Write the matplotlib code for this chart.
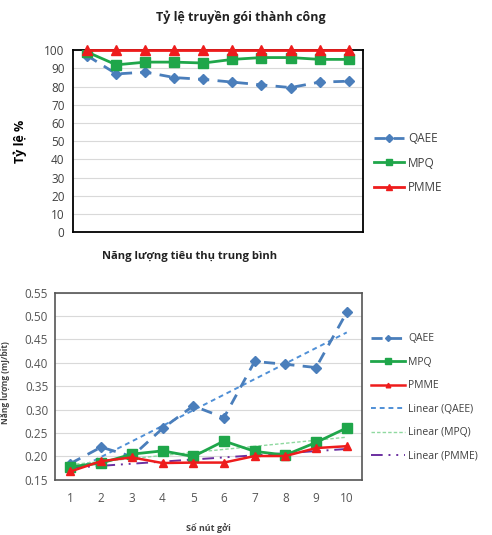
import matplotlib
matplotlib.use("Agg")
import matplotlib.pyplot as plt
import numpy as np

plt.rcParams.update({
    'font.family': ['Open Sans', 'DejaVu Sans'],
    'font.size': 8,
    'axes.linewidth': 1.0,
})

# ── Data ──────────────────────────────────────────────────────────
NODES = np.arange(1, 11)

# Success rate (%)
RATE_QAEE = [97, 87, 88, 85, 84, 82.5, 81, 79.5, 82.5, 83]
RATE_MPQ = [99, 92, 93.5, 93.5, 93, 95, 96, 96, 95, 95]
RATE_PMME = [100, 100, 100, 100, 100, 100, 100, 100, 100, 100]

# Average energy consumption
EN_QAEE = [0.185, 0.220, 0.200, 0.260, 0.308, 0.283, 0.403, 0.397, 0.390, 0.508]
EN_MPQ = [0.178, 0.186, 0.205, 0.212, 0.200, 0.233, 0.211, 0.203, 0.230, 0.261]
EN_PMME = [0.168, 0.190, 0.198, 0.186, 0.187, 0.187, 0.201, 0.201, 0.218, 0.222]

C_QAEE = "#4a7ebb"
C_MPQ = "#1fa64a"
C_PMME = "#ee1c1c"
C_TQ = "#4f8fd6"
C_TM = "#8fd9a0"
C_TP = "#6b2fa0"
TXT = "#404040"

fig = plt.figure(figsize=(4.92, 5.35), dpi=100)

# ── Top: success rate ─────────────────────────────────────────────
ax1 = fig.add_axes([0.148, 0.566, 0.590, 0.340])
ax1.plot(NODES, RATE_QAEE, "--D", color=C_QAEE, lw=2.0, ms=5.5,
         dashes=(4, 3), label="QAEE", zorder=3)
ax1.plot(NODES, RATE_MPQ, "-s", color=C_MPQ, lw=2.0, ms=6.5,
         label="MPQ", zorder=4)
ax1.plot(NODES, RATE_PMME, "-^", color=C_PMME, lw=2.0, ms=6.5,
         label="PMME", zorder=5, clip_on=False)
ax1.set_xlim(0.5, 10.5)
ax1.set_ylim(0, 100)
ax1.set_yticks(range(0, 101, 10))
ax1.set_xticks([])
ax1.grid(axis="y", color="#d9d9d9", lw=0.8)
ax1.set_axisbelow(True)
for s in ax1.spines.values():
    s.set_color("black")
    s.set_linewidth(1.3)
ax1.tick_params(axis="y", length=0, colors=TXT, labelsize=8.5, pad=6)
ax1.set_ylabel("Tỷ lệ %", fontsize=9, fontweight="bold", labelpad=12)
ax1.legend(loc="center left", bbox_to_anchor=(1.0, 0.38), frameon=False,
           fontsize=8.5, labelcolor=TXT, handlelength=2.6, labelspacing=1.0,
           handletextpad=0.3, markerscale=0.75)
fig.text(0.49, 0.968, "Tỷ lệ truyền gói thành công", ha="center", va="center",
         fontsize=9, fontweight="bold", color="#222222")

# ── Bottom: energy consumption ────────────────────────────────────
ax2 = fig.add_axes([0.112, 0.103, 0.624, 0.350])
ax2.plot(NODES, EN_QAEE, "--D", color=C_QAEE, lw=2.0, ms=5,
         dashes=(4, 3), label="QAEE", zorder=3)
ax2.plot(NODES, EN_MPQ, "-s", color=C_MPQ, lw=2.0, ms=6.5,
         label="MPQ", zorder=4)
ax2.plot(NODES, EN_PMME, "-^", color=C_PMME, lw=1.8, ms=5.5,
         label="PMME", zorder=5)

# linear trend lines
for ys, c, ls, lw, name in [
    (EN_QAEE, C_TQ, (0, (2.5, 2)), 1.4, "Linear (QAEE)"),
    (EN_MPQ, C_TM, (0, (2.5, 1.5)), 1.0, "Linear (MPQ)"),
    (EN_PMME, C_TP, (0, (6, 3, 1, 3, 1, 3)), 1.4, "Linear (PMME)"),
]:
    k, b = np.polyfit(NODES, ys, 1)
    ax2.plot(NODES, k * NODES + b, color=c, ls=ls, lw=lw, label=name, zorder=2)

ax2.set_xlim(0.5, 10.5)
ax2.set_ylim(0.15, 0.55)
ax2.set_yticks(np.arange(0.15, 0.5501, 0.05))
ax2.set_yticklabels([f"{v:.2f}" for v in np.arange(0.15, 0.5501, 0.05)])
ax2.set_xticks(NODES)
ax2.grid(axis="y", color="#d9d9d9", lw=0.8)
ax2.set_axisbelow(True)
for s in ax2.spines.values():
    s.set_color("#555555")
    s.set_linewidth(1.2)
ax2.tick_params(length=0, colors="#555555", labelsize=8.5)
ax2.tick_params(axis="x", pad=9)
ax2.tick_params(axis="y", pad=5)
ax2.set_xlabel("Số nút gởi", fontsize=6.5, fontweight="bold", color="#444444",
               labelpad=13)
fig.text(0.001, 0.285, "Năng lượng (mJ/bit)", rotation=90, ha="left",
         va="center", fontsize=6, fontweight="bold", color="#444444")
ax2.legend(loc="center left", bbox_to_anchor=(1.0, 0.44), frameon=False,
           fontsize=7.5, labelcolor=TXT, handlelength=3.2, labelspacing=1.2,
           handletextpad=0.3, markerscale=0.6)
fig.text(0.385, 0.52, "Năng lượng tiêu thụ trung bình", ha="center",
         va="center", fontsize=8, fontweight="bold", color="#222222")

fig.savefig("out.png", dpi=100)
